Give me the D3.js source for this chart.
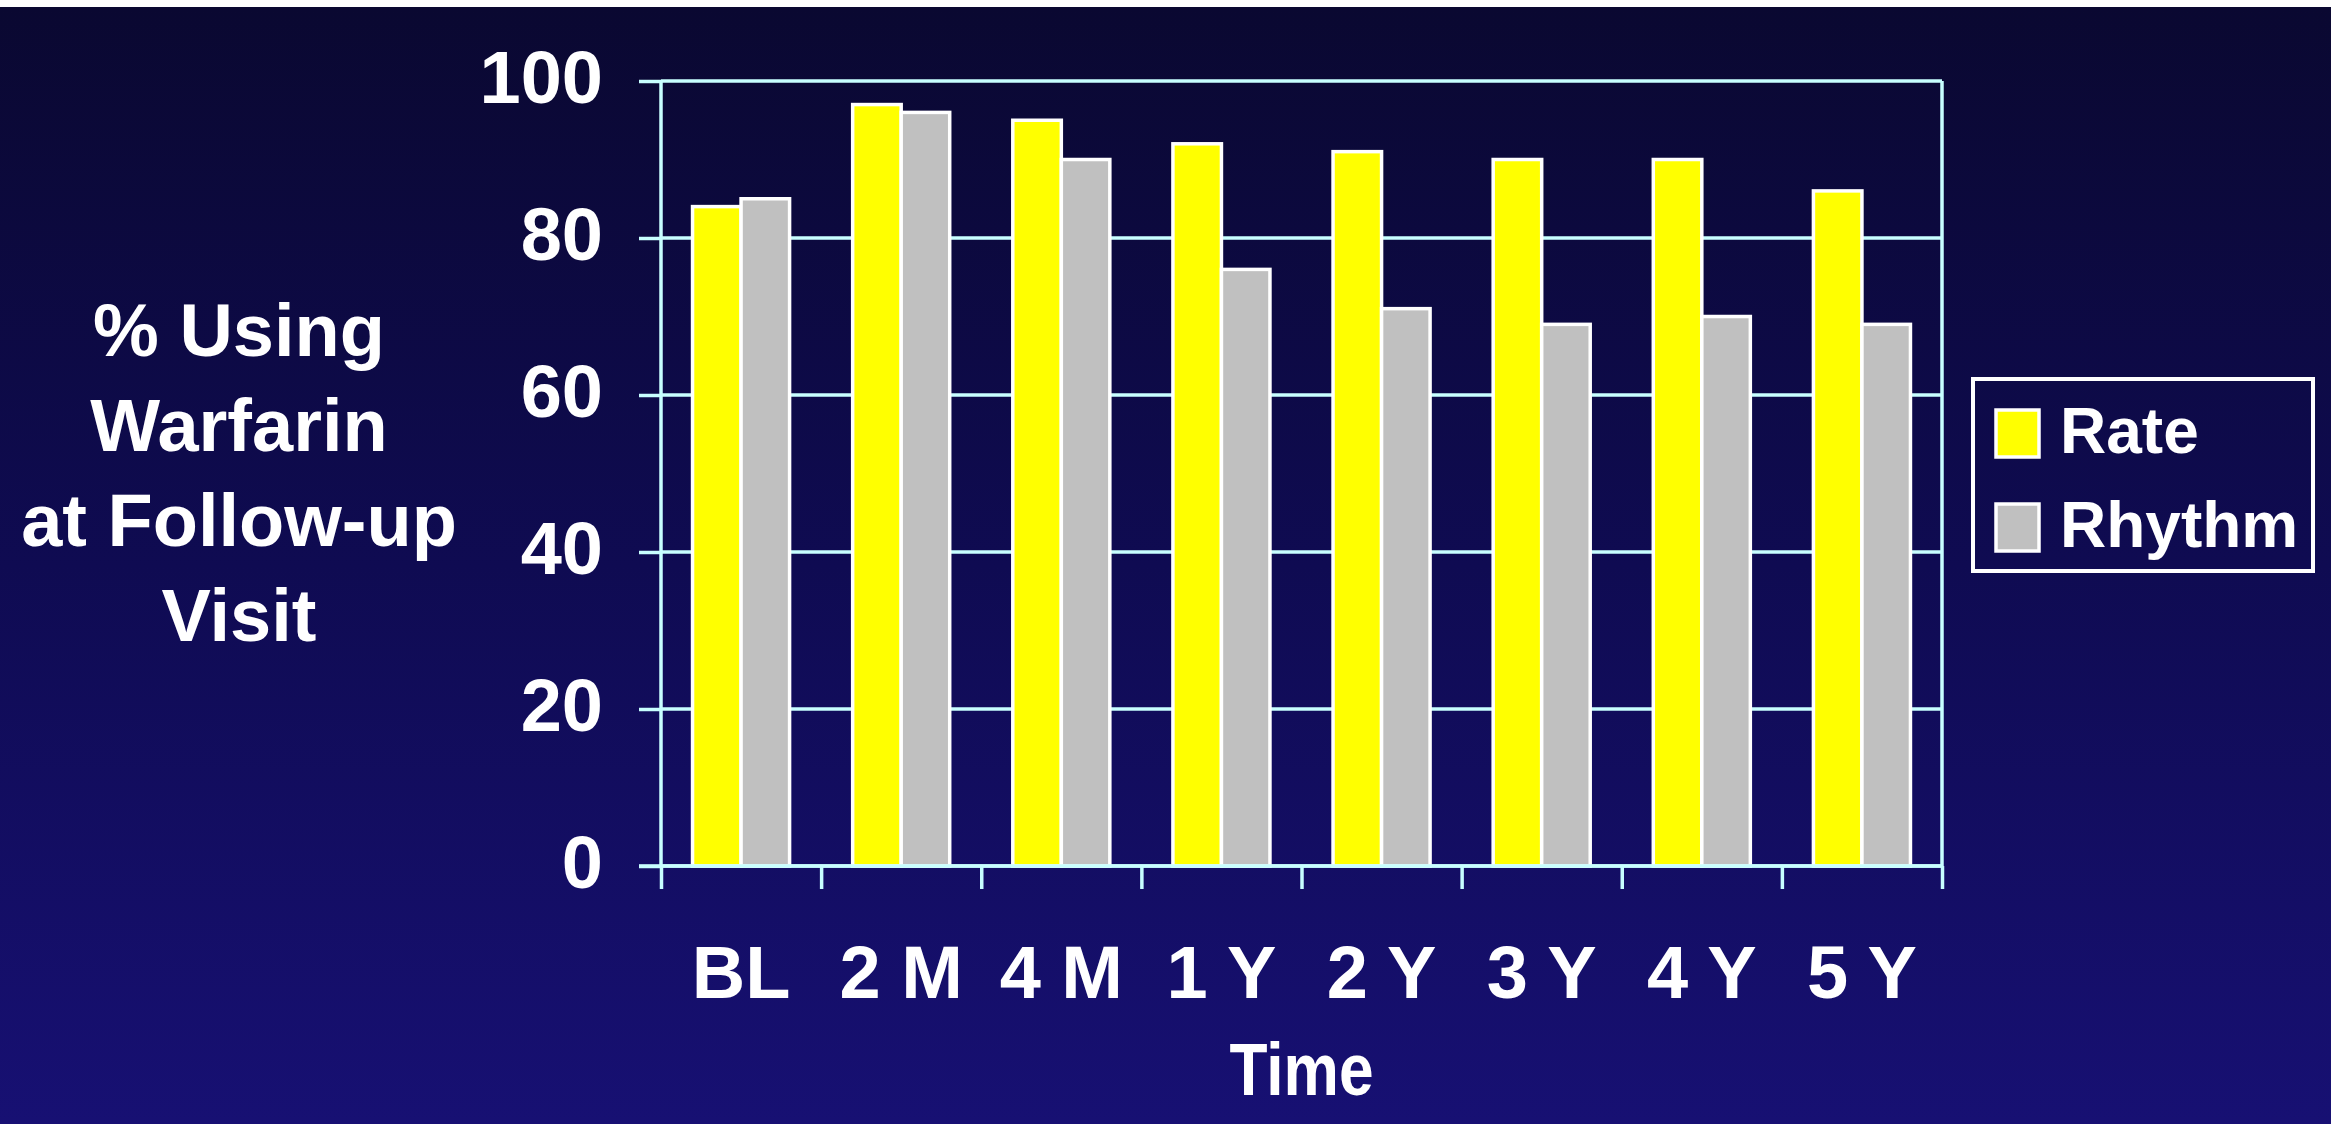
<!DOCTYPE html>
<html>
<head>
<meta charset="utf-8">
<script src="https://cdn.jsdelivr.net/npm/d3@7"></script>
<style>
  html, body { margin: 0; padding: 0; background: #ffffff; overflow: hidden; }
  svg { display: block; }
  text { font-family: "Liberation Sans", Arial, sans-serif; font-weight: bold; fill: #ffffff; }
</style>
</head>
<body>
<svg id="chart" width="2331" height="1124"></svg>
<script>
// Warfarin use at each follow-up visit, rate-control vs rhythm-control arms
const categories = ["BL", "2 M", "4 M", "1 Y", "2 Y", "3 Y", "4 Y", "5 Y"];
const rate       = [84, 97, 95, 92, 91, 90, 90, 86];
const rhythm     = [85, 96, 90, 76, 71, 69, 70, 69];
const seriesNames = ["Rate", "Rhythm"];
const yTicks = [0, 20, 40, 60, 80, 100];
const yTitleLines = ["% Using", "Warfarin", "at Follow-up", "Visit"];
const xTitle = "Time";

const W = 2331, H = 1124;
const plot = { left: 661, right: 1942, top: 81, bottom: 866 };
const colors = { Rate: "#ffff00", Rhythm: "#c0c0c0" };
const gridColor = "#c8ffff";

const svg = d3.select("#chart");

// background: thin white strip, then a navy vertical gradient
const defs = svg.append("defs");
const grad = defs.append("linearGradient")
  .attr("id", "bg").attr("x1", 0).attr("y1", 0).attr("x2", 0).attr("y2", 1);
grad.append("stop").attr("offset", "0%").attr("stop-color", "#0a0831");
grad.append("stop").attr("offset", "50%").attr("stop-color", "#0f0b52");
grad.append("stop").attr("offset", "100%").attr("stop-color", "#171073");
svg.append("rect").attr("width", W).attr("height", H).attr("fill", "#ffffff");
svg.append("rect").attr("y", 7).attr("width", W).attr("height", H - 7).attr("fill", "url(#bg)");

// scales
const x = d3.scaleBand().domain(categories).range([plot.left, plot.right]).padding(0);
const xEdge = d3.scaleLinear().domain([0, categories.length]).range([plot.left, plot.right]);
const inner = d3.scaleBand().domain(seriesNames)
  .range([x.bandwidth() * 0.197, x.bandwidth() * 0.803]).padding(0);
const y = d3.scaleLinear().domain([0, 100]).range([plot.bottom, plot.top]);

// horizontal gridlines (including top border)
svg.append("g").selectAll("line").data(yTicks).join("line")
  .attr("x1", plot.left).attr("x2", plot.right)
  .attr("y1", d => y(d)).attr("y2", d => y(d))
  .attr("stroke", gridColor).attr("stroke-width", 3.5);

// right border of the plot area
svg.append("line")
  .attr("x1", plot.right).attr("x2", plot.right)
  .attr("y1", plot.top).attr("y2", plot.bottom)
  .attr("stroke", gridColor).attr("stroke-width", 3.5);

// y axis
const yAxis = svg.append("g")
  .attr("transform", `translate(${plot.left},0)`)
  .call(d3.axisLeft(y).tickValues(yTicks).tickSize(22).tickPadding(36));
yAxis.select(".domain").attr("stroke", gridColor).attr("stroke-width", 3.5)
  .attr("d", `M0,${plot.top}V${plot.bottom}`);
yAxis.selectAll(".tick line").attr("stroke", gridColor).attr("stroke-width", 3.5);
yAxis.selectAll(".tick text")
  .attr("fill", "#ffffff").attr("font-size", 74).attr("dy", "0.29em")
  .style("font-family", "'Liberation Sans', Arial, sans-serif").style("font-weight", "bold");

// bars
const rows = categories.map((c, i) => ({ cat: c, Rate: rate[i], Rhythm: rhythm[i] }));
const groups = svg.append("g").selectAll("g").data(rows).join("g")
  .attr("transform", d => `translate(${x(d.cat)},0)`);
groups.selectAll("rect")
  .data(d => seriesNames.map(s => ({ s, v: d[s] })))
  .join("rect")
  .attr("x", d => inner(d.s))
  .attr("width", inner.bandwidth())
  .attr("y", d => y(d.v))
  .attr("height", d => y(0) - y(d.v))
  .attr("fill", d => colors[d.s])
  .attr("stroke", "#ffffff").attr("stroke-width", 3.5);

// x axis: tick marks at category boundaries
const xAxisTicks = svg.append("g")
  .attr("transform", `translate(0,${plot.bottom})`)
  .call(d3.axisBottom(xEdge).tickValues(d3.range(categories.length + 1)).tickSize(23).tickFormat(""));
xAxisTicks.select(".domain").attr("stroke", gridColor).attr("stroke-width", 3.5)
  .attr("d", `M${plot.left - 22},0H${plot.right}`);
xAxisTicks.selectAll(".tick line").attr("stroke", gridColor).attr("stroke-width", 3.5);

// x axis: category labels centred in each band
const xAxisLabels = svg.append("g")
  .attr("transform", `translate(0,${plot.bottom})`)
  .call(d3.axisBottom(x).tickSize(0).tickPadding(79));
xAxisLabels.select(".domain").remove();
xAxisLabels.selectAll(".tick text")
  .attr("fill", "#ffffff").attr("font-size", 74)
  .style("font-family", "'Liberation Sans', Arial, sans-serif").style("font-weight", "bold");

// x title (narrow bold face)
svg.append("text")
  .attr("transform", `translate(${(plot.left + plot.right) / 2},1095) scale(0.83,1)`)
  .attr("text-anchor", "middle").attr("font-size", 75)
  .text(xTitle);

// y title, four centred lines
svg.append("g").selectAll("text").data(yTitleLines).join("text")
  .attr("x", 239).attr("y", (d, i) => 356 + i * 95)
  .attr("text-anchor", "middle").attr("font-size", 74)
  .text(d => d);

// legend
const legend = svg.append("g");
legend.append("rect")
  .attr("x", 1973).attr("y", 379).attr("width", 340).attr("height", 192)
  .attr("fill", "none").attr("stroke", "#ffffff").attr("stroke-width", 4);
const items = legend.selectAll("g.item").data(seriesNames).join("g")
  .attr("class", "item")
  .attr("transform", (d, i) => `translate(1996,${410 + i * 94})`);
items.append("rect")
  .attr("width", 43).attr("height", 47)
  .attr("fill", d => colors[d]).attr("stroke", "#ffffff").attr("stroke-width", 3.5);
items.append("text")
  .attr("x", 64).attr("y", 43)
  .attr("font-size", 64)
  .text(d => d);
</script>
</body>
</html>
